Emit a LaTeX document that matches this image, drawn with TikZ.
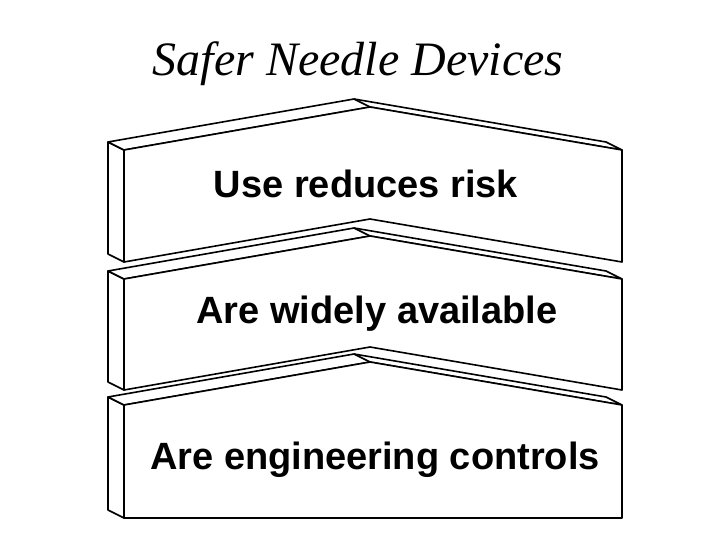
\documentclass[tikz,border=0pt]{standalone}
\usepackage{fontspec}
\setmainfont{Liberation Serif}
\setsansfont{Liberation Sans}
\usetikzlibrary{positioning}

\tikzset{
	blockline/.style={draw=black, line width=1.6pt, line join=round, fill=white},
	label/.style={font=\sffamily\bfseries\fontsize{38}{40}\selectfont, anchor=base, inner sep=0pt},
	title/.style={font=\itshape\fontsize{48}{52}\selectfont, anchor=base, inner sep=0pt}
}

\begin{document}
\begin{tikzpicture}[x=1pt, y=-1pt]
		\useasboundingbox (0,0) rectangle (720,540);
		
		% Title
		\node[title] (title) at (358, 76) {Safer Needle Devices};
		
		% Top block
		\draw[blockline] (124,150) -- (108,142) -- (108,254) -- (124,262) -- cycle;
		\draw[blockline] (124,150) -- (108,142) -- (354,99) -- (606,142) -- (622,150) -- (370,107) -- cycle;
		\draw[blockline] (124,150) -- (370,107) -- (622,150) -- (622,262) -- (370,219) -- (124,262) -- cycle;
		\draw[blockline] (354,99) -- (370,107);
		
		% Middle block
		\draw[blockline] (124,279) -- (108,271) -- (108,382) -- (124,390) -- cycle;
		\draw[blockline] (124,279) -- (108,271) -- (354,228) -- (606,271) -- (622,279) -- (370,236) -- cycle;
		\draw[blockline] (124,279) -- (370,236) -- (622,279) -- (622,390) -- (370,347) -- (124,390) -- cycle;
		\draw[blockline] (354,228) -- (370,236);
		
		% Bottom block
		\draw[blockline] (124,405) -- (108,397) -- (108,510) -- (124,518) -- cycle;
		\draw[blockline] (124,405) -- (108,397) -- (354,354) -- (606,397) -- (622,405) -- (370,362) -- cycle;
		\draw[blockline] (124,405) -- (370,362) -- (622,405) -- (622,518) -- (124,518) -- cycle;
		\draw[blockline] (354,354) -- (370,362);
		
		% Labels
		\node[label] (risk) at (366, 197) {Use reduces risk};
		\node[label] (avail) at (377, 323) {Are widely available};
		\node[label] (eng) at (375, 469) {Are engineering controls};
\end{tikzpicture}
\end{document}
